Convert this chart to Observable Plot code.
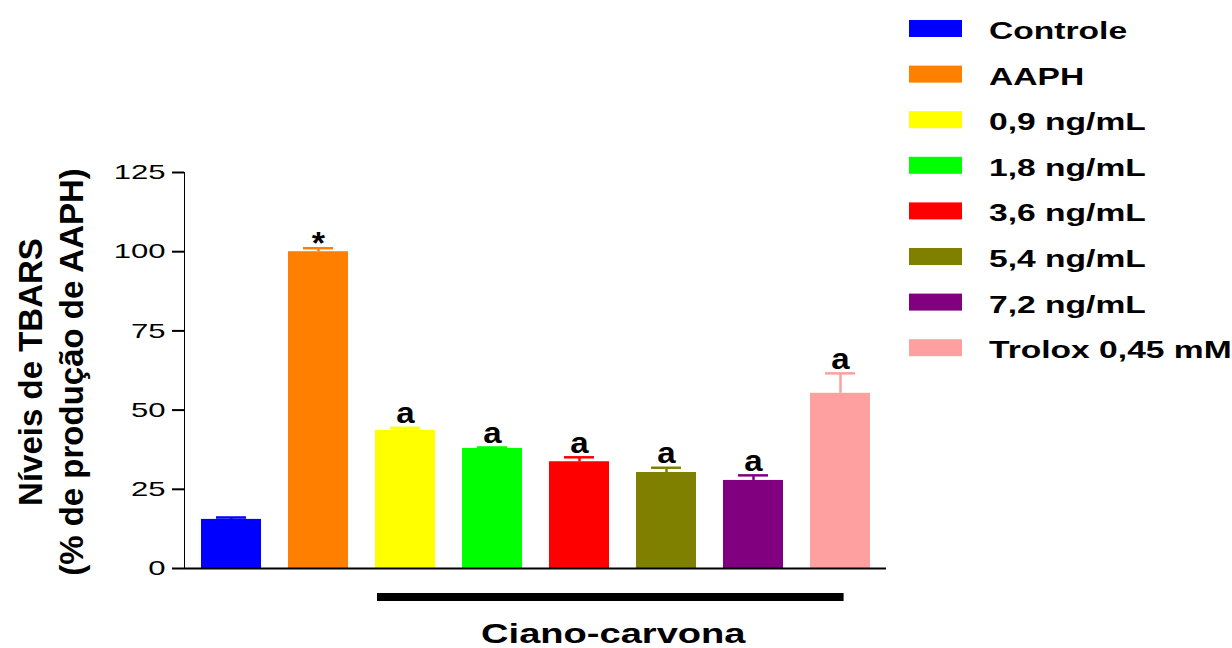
<!DOCTYPE html>
<html>
<head>
<meta charset="utf-8">
<script src="https://cdn.jsdelivr.net/npm/d3@7"></script>
<script src="https://cdn.jsdelivr.net/npm/@observablehq/plot@0.6"></script>
<style>
  html, body { margin: 0; padding: 0; background: #fff; }
  #chart svg { display: block; }
</style>
</head>
<body>
<div id="chart"></div>
<script>
// Groups, bar colours and TBARS levels (mean + upper error) per treatment
const groups = ["Controle", "AAPH", "0,9 ng/mL", "1,8 ng/mL", "3,6 ng/mL", "5,4 ng/mL", "7,2 ng/mL", "Trolox 0,45 mM"];
const colors = ["#0000ff", "#ff8000", "#ffff00", "#00ff00", "#ff0000", "#808000", "#800080", "#ffa0a0"];
const means  = [15.5, 100.0, 43.6, 37.9, 33.7, 30.3, 27.8, 55.3];
const errors = [0.6, 1.1, 0.8, 0.3, 1.4, 1.5, 1.6, 6.3];
const signif = ["", "*", "a", "a", "a", "a", "a", "a"];
const yTicks = [0, 25, 50, 75, 100, 125];
const yTitle = ["Níveis de TBARS", "(% de produção de AAPH)"];
const bracketLabel = "Ciano-carvona";

const data = groups.map((g, i) => ({
  group: g, value: means[i], top: means[i] + errors[i], label: signif[i]
}));

const font = "'Liberation Sans', Arial, sans-serif";

const plot = Plot.plot({
  width: 1232,
  height: 648,
  marginLeft: 184,
  marginRight: 346,
  marginTop: 172,
  marginBottom: 80,
  style: { fontFamily: font, fontSize: "21px", color: "#000", background: "#fff", overflow: "visible" },
  x: { domain: groups, axis: null, paddingInner: 0.312, paddingOuter: 0.16 },
  y: { domain: [0, 125], ticks: yTicks, tickSize: 12, tickPadding: 7, label: null, line: true },
  color: { domain: groups, range: colors },
  marks: [
    Plot.ruleX(data, { x: "group", y1: "value", y2: "top", stroke: "group", strokeWidth: 2.5 }),
    Plot.tickY(data, { x: "group", y: "top", stroke: "group", strokeWidth: 2.5, insetLeft: 15, insetRight: 15 }),
    Plot.barY(data, { x: "group", y: "value", fill: "group" }),
    Plot.ruleY([0], { strokeWidth: 2 }),
    Plot.text(data.filter(d => d.label === "a"), {
      x: "group", y: "top", text: "label", lineAnchor: "bottom", dy: -4.5,
      fontSize: 30, fontWeight: "bold", fill: "#000"
    }),
    Plot.text(data.filter(d => d.label === "*"), {
      x: "group", y: "top", text: "label", lineAnchor: "bottom", dy: 6,
      fontSize: 31, fontWeight: "bold", fill: "#000"
    })
  ]
});

// Widen text horizontally around its anchor point
function stretchText(sel, s) {
  sel.each(function () {
    const t = d3.select(this);
    let tr = t.attr("transform") || "";
    const x = t.attr("x");
    if (x != null && !isNaN(+x)) { tr += ` translate(${+x},0)`; t.attr("x", null); }
    t.attr("transform", `${tr} scale(${s},1)`);
  });
}

const svg = d3.select(plot);
stretchText(svg.selectAll('g[aria-label="y-axis tick label"] text'), 1.48);
stretchText(svg.selectAll('g[aria-label="text"] text'), 1.1);

// Heavier y-axis line and ticks
svg.selectAll('g[aria-label^="y-axis"]')
  .filter(function () { return !this.getAttribute("aria-label").includes("label"); })
  .each(function () {
    d3.select(this).attr("stroke-width", 2).selectAll("path, line").attr("stroke-width", 2);
  });

// Rotated two-line y-axis title
const yt = svg.append("g")
  .attr("transform", "translate(42,372) rotate(-90)")
  .attr("text-anchor", "middle")
  .attr("font-family", font)
  .attr("font-weight", "bold")
  .attr("font-size", 33)
  .attr("fill", "#000");
yTitle.forEach((line, i) => yt.append("text").attr("y", i * 41).text(line));

// Bracket under the Ciano-carvona concentrations
const xs = plot.scale("x");
const bx1 = xs.apply(groups[2]) + 2;
const bx2 = xs.apply(groups[7]) + xs.bandwidth * 0.56;
svg.append("line")
  .attr("x1", bx1).attr("x2", bx2).attr("y1", 597).attr("y2", 597)
  .attr("stroke", "#000").attr("stroke-width", 8);
svg.append("text")
  .attr("transform", `translate(${(bx1 + bx2) / 2 + 3},643) scale(1.36,1)`)
  .attr("text-anchor", "middle")
  .attr("font-family", font).attr("font-weight", "bold").attr("font-size", 28)
  .attr("fill", "#000")
  .text(bracketLabel);

// Legend: colour swatches with group names
const cs = plot.scale("color");
const lg = svg.append("g")
  .attr("font-family", font).attr("font-weight", "bold").attr("font-size", 23.5)
  .attr("text-anchor", "start");
groups.forEach((g, i) => {
  const y0 = 20 + i * 45.6;
  lg.append("rect").attr("x", 909).attr("y", y0).attr("width", 53).attr("height", 17)
    .attr("fill", cs.apply(g));
  lg.append("text").attr("transform", `translate(989,${y0 + 19}) scale(1.43,1)`)
    .attr("fill", "#000").text(g);
});

document.getElementById("chart").append(plot);
</script>
</body>
</html>
